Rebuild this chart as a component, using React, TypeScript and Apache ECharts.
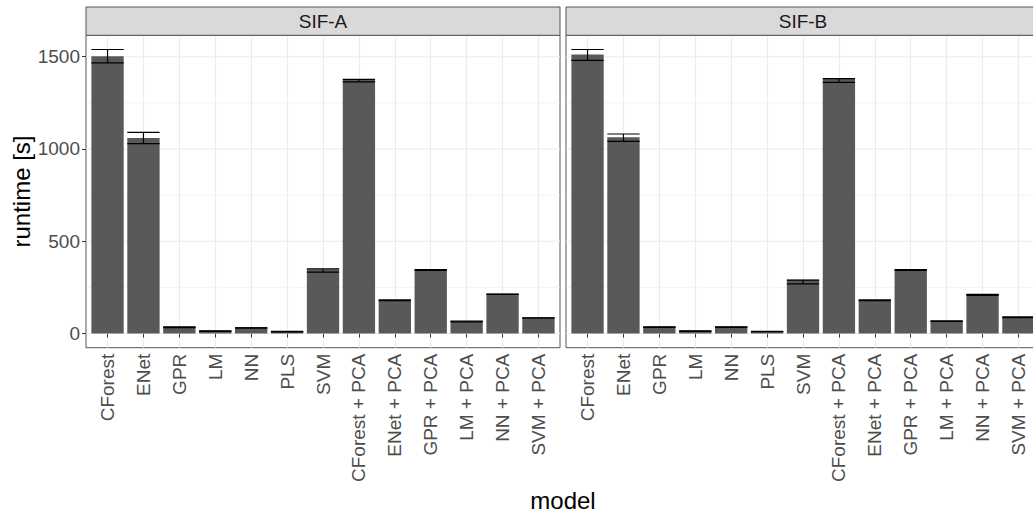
import { useEffect, useRef } from 'react';
import * as echarts from 'echarts';

// ---------- data ----------
const CATEGORIES = [
  'CForest', 'ENet', 'GPR', 'LM', 'NN', 'PLS', 'SVM',
  'CForest + PCA', 'ENet + PCA', 'GPR + PCA', 'LM + PCA', 'NN + PCA', 'SVM + PCA',
];
const PANELS = ['SIF-A', 'SIF-B'];

const SIF_A_VALUE = [1502, 1060, 36, 15, 31, 11, 348, 1375, 182, 345, 67, 213, 85];
const SIF_A_LOWER = [1466, 1029, 32, 12, 30, 9, 333, 1364, 178, 342, 63, 212, 84];
const SIF_A_UPPER = [1539, 1090, 36, 15, 31, 11, 350, 1377, 182, 346, 67, 213, 85];

const SIF_B_VALUE = [1512, 1063, 36, 15, 36, 11, 291, 1381, 182, 345, 69, 213, 90];
const SIF_B_LOWER = [1480, 1041, 33, 12, 33, 10, 269, 1361, 178, 342, 65, 207, 86];
const SIF_B_UPPER = [1539, 1081, 36, 15, 36, 11, 289, 1381, 182, 346, 69, 212, 90];

const Y_MAJOR = [0, 500, 1000, 1500];
const Y_MINOR = [250, 750, 1250];

const VALUES = [SIF_A_VALUE, SIF_B_VALUE];
const LOWERS = [SIF_A_LOWER, SIF_B_LOWER];
const UPPERS = [SIF_A_UPPER, SIF_B_UPPER];

// ---------- layout ----------
const FONT = '"Liberation Sans", Arial, Helvetica, sans-serif';
const CHART_W = 1050;
const CHART_H = 515;
const PANEL_LEFT = [86, 566];
const PANEL_W = 474;
const PANEL_TOP = 35.3;
const PANEL_H = 312.4;
const STRIP_TOP = 7;
const EXPAND = 0.6;
const BORDER = '#555555';
const GRID_COLOR = '#EBEBEB';

export default function App() {
  const ref = useRef<HTMLDivElement>(null);

  useEffect(() => {
    if (!ref.current) return;
    const chart = echarts.init(ref.current, null, { renderer: 'svg' });

    const allUpper = Math.max(...UPPERS.flat(), ...VALUES.flat());
    const yMin = -0.05 * allUpper;
    const yMax = 1.05 * allUpper;
    const unit = PANEL_W / (CATEGORIES.length - 1 + 2 * EXPAND);

    const grids: any[] = [];
    const xAxes: any[] = [];
    const yAxes: any[] = [];
    const series: any[] = [];

    PANELS.forEach((_, p) => {
      const outer = p * 2;
      const inner = p * 2 + 1;
      grids.push({
        left: PANEL_LEFT[p], top: PANEL_TOP, width: PANEL_W, height: PANEL_H,
        show: true, borderColor: BORDER, borderWidth: 1, backgroundColor: 'transparent',
        containLabel: false, outerBoundsMode: 'none',
      });
      grids.push({
        left: PANEL_LEFT[p] + EXPAND * unit, top: PANEL_TOP,
        width: unit * (CATEGORIES.length - 1), height: PANEL_H,
        show: false, containLabel: false, outerBoundsMode: 'none',
      });
      xAxes.push({ type: 'value', gridIndex: outer, min: 0, max: 1, show: false });
      xAxes.push({
        type: 'category', gridIndex: inner, data: CATEGORIES, boundaryGap: false,
        axisLine: { show: false },
        axisTick: { show: true, length: 4, lineStyle: { color: '#333333', width: 1 } },
        axisLabel: {
          show: true, rotate: 90, interval: 0, fontSize: 19, color: '#4D4D4D',
          margin: 6, fontFamily: FONT,
        },
        splitLine: { show: true, lineStyle: { color: GRID_COLOR, width: 1.1 } },
      });
      yAxes.push({
        type: 'value', gridIndex: outer, min: yMin, max: yMax,
        axisLine: { show: false },
        splitLine: { show: false },
        axisTick: {
          show: p === 0, length: 4, customValues: Y_MAJOR,
          lineStyle: { color: '#333333', width: 1 },
        },
        axisLabel: {
          show: p === 0, customValues: Y_MAJOR, fontSize: 19, color: '#4D4D4D',
          margin: 6, fontFamily: FONT, formatter: (v: number) => String(v),
        },
      });
      yAxes.push({ type: 'value', gridIndex: inner, min: yMin, max: yMax, show: false });

      series.push({
        type: 'custom', xAxisIndex: outer, yAxisIndex: outer, silent: true, z: 1,
        data: [...Y_MINOR.map((v) => [0, v, 0]), ...Y_MAJOR.map((v) => [0, v, 1])],
        renderItem: (params: any, api: any) => {
          const cs = params.coordSys;
          const y = api.coord([0, api.value(1)])[1];
          const major = api.value(2) === 1;
          return {
            type: 'line',
            shape: { x1: cs.x, y1: y, x2: cs.x + cs.width, y2: y },
            style: { stroke: GRID_COLOR, lineWidth: major ? 1.1 : 0.6 },
          };
        },
      });
      series.push({
        type: 'bar', xAxisIndex: inner, yAxisIndex: inner, data: VALUES[p],
        barWidth: '90%', clip: false, silent: true, z: 2,
        itemStyle: { color: '#595959' },
      });
      series.push({
        type: 'custom', xAxisIndex: inner, yAxisIndex: inner, silent: true, z: 3,
        clip: false,
        data: CATEGORIES.map((_, i) => [i, LOWERS[p][i], UPPERS[p][i]]),
        encode: { x: 0, y: [1, 2] },
        renderItem: (_params: any, api: any) => {
          const i = api.value(0);
          const lo = api.coord([i, api.value(1)]);
          const hi = api.coord([i, api.value(2)]);
          const w = api.size([1, 0])[0] * 0.9;
          const style = { stroke: '#000000', lineWidth: 1.2, fill: null };
          return {
            type: 'group',
            children: [
              { type: 'line', shape: { x1: hi[0], y1: hi[1], x2: lo[0], y2: lo[1] }, style },
              { type: 'line', shape: { x1: hi[0] - w / 2, y1: hi[1], x2: hi[0] + w / 2, y2: hi[1] }, style },
              { type: 'line', shape: { x1: lo[0] - w / 2, y1: lo[1], x2: lo[0] + w / 2, y2: lo[1] }, style },
            ],
          };
        },
      });
    });

    const graphics: any[] = [];
    PANELS.forEach((name, p) => {
      graphics.push({
        type: 'rect', silent: true, z: 10,
        shape: { x: PANEL_LEFT[p], y: STRIP_TOP, width: PANEL_W, height: PANEL_TOP - STRIP_TOP },
        style: { fill: '#D9D9D9', stroke: BORDER, lineWidth: 1 },
      });
      graphics.push({
        type: 'text', silent: true, z: 11,
        x: PANEL_LEFT[p] + PANEL_W / 2, y: (STRIP_TOP + PANEL_TOP) / 2,
        style: {
          text: name, fontSize: 19, fill: '#1A1A1A', align: 'center',
          verticalAlign: 'middle', fontFamily: FONT,
        },
      });
    });
    graphics.push({
      type: 'text', silent: true, x: 21, y: PANEL_TOP + PANEL_H / 2, rotation: Math.PI / 2,
      style: {
        text: 'runtime [s]', fontSize: 24, fill: '#000000', align: 'center',
        verticalAlign: 'middle', fontFamily: FONT,
      },
    });
    graphics.push({
      type: 'text', silent: true,
      x: (PANEL_LEFT[0] + PANEL_LEFT[1] + PANEL_W) / 2, y: 500,
      style: {
        text: 'model', fontSize: 24, fill: '#000000', align: 'center',
        verticalAlign: 'middle', fontFamily: FONT,
      },
    });

    chart.setOption({
      animation: false,
      backgroundColor: '#FFFFFF',
      textStyle: { fontFamily: FONT },
      grid: grids,
      xAxis: xAxes,
      yAxis: yAxes,
      series,
      graphic: { elements: graphics },
    });

    return () => chart.dispose();
  }, []);

  return (
    <div
      style={{
        position: 'fixed', left: 0, top: 0, width: 1033, height: CHART_H,
        overflow: 'hidden', background: '#FFFFFF',
      }}
    >
      <div ref={ref} style={{ width: CHART_W, height: CHART_H }} />
    </div>
  );
}
